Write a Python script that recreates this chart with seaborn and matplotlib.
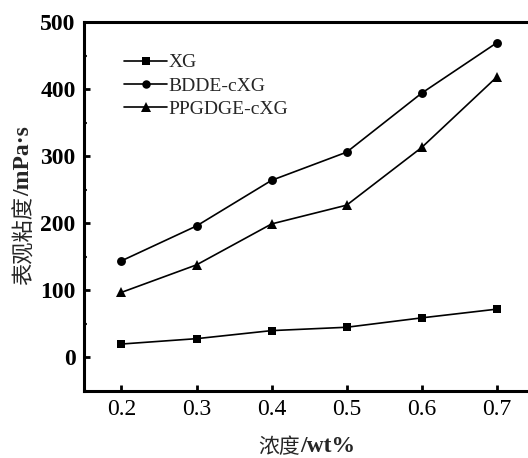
import matplotlib
matplotlib.use("Agg")
import matplotlib.pyplot as plt
from matplotlib.ticker import MultipleLocator
import seaborn as sns
import pandas as pd

# concentration (wt%) and apparent viscosity (mPa·s)
concentration = [0.2, 0.3, 0.4, 0.5, 0.6, 0.7]
xg = [20, 28, 40, 45, 59, 72]
bdde_cxg = [144, 196, 264, 306, 394, 469]
ppgdge_cxg = [97, 138, 199, 227, 313, 418]
series_names = ["XG", "BDDE-cXG", "PPGDGE-cXG"]
x_ticks = [0.2, 0.3, 0.4, 0.5, 0.6, 0.7]
y_ticks = [0, 100, 200, 300, 400, 500]

df = pd.DataFrame({
    "conc": concentration * 3,
    "visc": xg + bdde_cxg + ppgdge_cxg,
    "series": [n for n in series_names for _ in concentration],
})

sns.set_theme(style="white")
plt.rcParams["font.family"] = ["Liberation Serif", "DejaVu Serif"]

fig = plt.figure(figsize=(5.28, 4.58), dpi=100)
ax = fig.add_axes([0.159, 0.1463, 0.853, 0.8057])

sns.lineplot(
    data=df, x="conc", y="visc", hue="series", style="series",
    hue_order=series_names, style_order=series_names,
    palette=["black"] * 3, markers={"XG": "s", "BDDE-cXG": "o", "PPGDGE-cXG": "^"},
    dashes=False, markersize=6, linewidth=1.2, markeredgewidth=0,
    ax=ax, legend=True,
)

# per-marker sizes (square, circle, triangle)
marker_sizes = {"s": 5.4, "o": 6.4, "^": 7.4}
for line in ax.lines:
    m = line.get_marker()
    if m in marker_sizes:
        line.set_markersize(marker_sizes[m])

ax.set_xlim(0.15, 0.75)
ax.set_ylim(-50, 500)
ax.set_xticks(x_ticks)
ax.set_xticklabels([f"{v:.1f}" for v in x_ticks], fontsize=17)
ax.set_yticks(y_ticks)
ax.set_yticklabels([str(v) for v in y_ticks], fontsize=17, fontweight="bold")
ax.yaxis.set_minor_locator(MultipleLocator(50))
ax.tick_params(axis="both", which="major", direction="in", length=4, width=2,
               pad=6, colors="black")
ax.tick_params(axis="y", which="minor", direction="in", length=2.5, width=1.5, left=True)
ax.tick_params(axis="x", bottom=True)
ax.tick_params(axis="y", left=True)
for side in ["left", "bottom", "top"]:
    ax.spines[side].set_linewidth(2.2)
    ax.spines[side].set_color("black")
ax.spines["right"].set_visible(False)
ax.set_xlabel("")
ax.set_ylabel("")

leg = ax.legend(
    loc="upper left", bbox_to_anchor=(0.072, 0.935), frameon=False,
    fontsize=14, handlelength=2.2, handletextpad=0.1, labelspacing=0.3,
    borderaxespad=0,
)
for h in leg.legend_handles:
    m = h.get_marker()
    if m in marker_sizes:
        h.set_markersize(marker_sizes[m] * 0.95)

# axis titles: Chinese text regular, units bold
t1 = fig.text(258 / 528, 1 - 447 / 458, "浓度", fontsize=15,
              family=["Noto Sans CJK SC"], ha="left", va="center")
ax.annotate("/wt%", xy=(1, 0.5), xycoords=t1, ha="left", va="center",
            fontsize=17, fontweight="bold", family=["Liberation Serif"])

t2 = fig.text(24 / 528, 1 - 285 / 458, "表观粘度", fontsize=16,
              family=["Noto Sans CJK SC"], rotation=90, ha="center", va="bottom")
ax.annotate("/mPa·s", xy=(0.5, 1), xycoords=t2, ha="center", va="bottom",
            rotation=90, fontsize=17, fontweight="bold", family=["Liberation Serif"])

fig.savefig("out.png", dpi=100)
